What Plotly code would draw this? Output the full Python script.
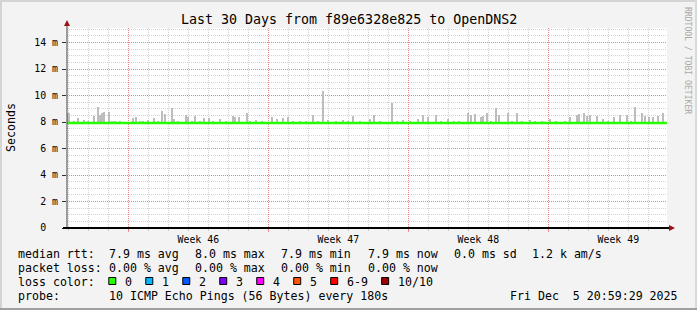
import plotly.graph_objects as go

# ---------------- data ----------------
title_text = "Last 30 Days from f89e6328e825 to OpenDNS2"
# time axis: days since start of the 30-day window
first_week_line = 3.065          # first week boundary (days)
first_day_line = 0.065           # first day boundary (days)
week_labels = ["Week 46", "Week 47", "Week 48", "Week 49"]

# median rtt (ms), one reading per day boundary
median_day = list(range(31))
median_ms = [7.92, 7.92, 7.92, 7.92, 7.92, 7.92, 7.92, 7.92, 7.92, 7.92,
             7.92, 7.92, 7.92, 7.92, 7.92, 7.92, 7.92, 7.92, 7.92, 7.92,
             7.92, 7.92, 7.92, 7.92, 7.92, 7.92, 7.92, 7.92, 7.92, 7.92, 7.92]

# smoke spikes: position (days) and top of smoke (ms)
smoke_day = [0.07, 0.10, 0.35, 0.57, 0.85, 1.05, 1.35, 1.57, 1.65, 1.74, 1.87, 2.10,
             2.25, 2.40, 2.65, 3.29, 3.45, 3.65, 3.80, 4.05, 4.35, 4.55, 4.77, 4.92,
             5.27, 5.33, 5.55, 5.94, 6.04, 6.25, 6.40, 6.65, 6.85, 7.12, 7.30, 7.65,
             7.95, 8.30, 8.38, 8.62, 8.99, 9.15, 9.45, 9.75, 10.24, 10.49, 10.82,
             11.04, 11.30, 11.65, 11.95, 12.32, 12.55, 12.82, 13.05, 13.45, 13.80,
             14.05, 14.32, 14.65, 15.15, 15.37, 15.65, 16.24, 16.50, 16.80, 17.15,
             17.57, 17.82, 18.07, 18.45, 18.70, 19.05, 19.35, 19.60, 20.07, 20.20,
             20.40, 20.70, 20.80, 20.99, 21.20, 21.44, 21.60, 22.04, 22.25, 22.49,
             22.75, 23.15, 23.40, 23.75, 24.15, 24.45, 24.90, 25.15, 25.49, 25.60,
             25.85, 26.02, 26.15, 26.49, 26.80, 27.05, 27.37, 27.65, 27.99, 28.20,
             28.40, 28.74, 28.90, 29.10, 29.30, 29.57, 29.82]
smoke_ms = [8.66, 8.65, 8.10, 8.28, 8.12, 8.10, 8.45, 9.12, 8.50, 8.65, 8.73, 8.78,
            8.08, 8.10, 8.08, 8.30, 8.40, 8.06, 8.10, 8.15, 8.30, 8.08, 8.83, 8.60,
            9.03, 8.20, 8.08, 8.55, 8.40, 8.10, 8.45, 8.08, 8.33, 8.33, 8.06, 8.25,
            8.10, 8.45, 8.40, 8.40, 8.68, 8.08, 8.12, 8.06, 8.40, 8.25, 8.28,
            8.40, 8.08, 8.10, 8.06, 8.53, 8.08, 10.34, 8.15, 8.08, 8.15,
            8.10, 8.45, 8.08, 8.25, 8.55, 8.10, 9.42, 8.10, 8.15, 8.08,
            8.25, 8.55, 8.40, 8.50, 8.10, 8.25, 8.08, 8.10, 8.68, 8.55,
            8.58, 8.40, 8.45, 8.65, 8.10, 9.04, 8.55, 8.65, 8.10, 8.65,
            8.08, 8.15, 8.08, 8.10, 8.25, 8.08, 8.10, 8.40, 8.55, 8.58,
            8.68, 8.45, 8.55, 8.45, 8.25, 8.10, 8.40, 8.50, 8.55, 8.10,
            9.14, 8.68, 8.45, 8.40, 8.35, 8.45, 8.65]

y_tick_vals = [0, 2, 4, 6, 8, 10, 12, 14]
y_tick_text = ["0\u00a0\u00a0", "2 m", "4 m", "6 m", "8 m", "10 m", "12 m", "14 m"]
y_max = 15.094

legend_rows = [
    ["median rtt:", "7.9 ms avg", "8.0 ms max", "7.9 ms min", "7.9 ms now", "0.0 ms sd", "1.2 k am/s"],
    ["packet loss:", "0.00 % avg", "0.00 % max", "0.00 % min", "0.00 % now"],
]
loss_labels = ["0", "1", "2", "3", "4", "5", "6-9", "10/10"]
loss_colors = ["#26ff00", "#00b8ff", "#0059ff", "#7e00ff", "#ff00ff", "#ff5500", "#ff0000", "#a10000"]
probe_text = "10 ICMP Echo Pings (56 Bytes) every 180s"
date_text = "Fri Dec\u00a0\u00a05 20:59:29 2025"
watermark = "RRDTOOL / TOBI OETIKER"

# ---------------- layout geometry ----------------
W, H = 697, 310
PL, PR, PT, PB = 67, 667, 28, 228
FONT = "DejaVu Sans Mono"


def fx(px):
    return (px - PL) / (PR - PL)


def fy(py):
    return (PB - py) / (PB - PT)


week_lines = [first_week_line + 7 * k for k in range(4)]
week_centers = [w + 3.5 for w in week_lines]
day_lines = [first_day_line + k for k in range(30)]

# median value at each smoke position (step function)
def median_at(d):
    i = min(int(d), len(median_ms) - 1)
    return median_ms[i]

smoke_base = [median_at(d) for d in smoke_day]
smoke_h = [t - b for t, b in zip(smoke_ms, smoke_base)]

fig = go.Figure()
fig.add_trace(go.Bar(x=smoke_day, y=smoke_h, base=smoke_base, width=0.05,
                     marker=dict(color="#bdbdbd", line=dict(width=0)),
                     showlegend=False, hoverinfo="skip"))
fig.add_trace(go.Scatter(x=median_day, y=median_ms, mode="lines",
                         line=dict(color="#26ff00", width=2.5, shape="hv"),
                         showlegend=False, hoverinfo="skip"))
# invisible trace to activate the label axis
fig.add_trace(go.Scatter(x=[0, 30], y=[0, 0], xaxis="x2", mode="lines",
                         line=dict(width=0), showlegend=False, hoverinfo="skip"))

red_grid = "rgba(255,0,0,0.38)"
gray_grid = "rgba(140,140,140,0.38)"

fig.update_layout(
    width=W, height=H,
    margin=dict(l=PL, r=W - PR, t=PT, b=H - PB, pad=0),
    paper_bgcolor="#f3f3f3", plot_bgcolor="#ffffff",
    font=dict(family=FONT, color="#000000"),
    bargap=0,
    xaxis=dict(range=[0, 30], tickvals=week_lines, showticklabels=False,
               ticks="outside", ticklen=3, tickcolor=red_grid,
               showgrid=True, gridcolor=red_grid, griddash="1px,1px", gridwidth=1,
               zeroline=False, showline=False, fixedrange=True,
               minor=dict(tickvals=day_lines, showgrid=True, gridcolor=gray_grid,
                          griddash="1px,1px", ticks="outside", ticklen=2,
                          tickcolor=gray_grid)),
    xaxis2=dict(range=[0, 30], overlaying="x", anchor="y", side="bottom",
                tickvals=week_centers, ticktext=week_labels, ticks="",
                showgrid=False, zeroline=False, showline=False,
                tickfont=dict(family=FONT, size=9.9, color="#000000"),
                ticklabelstandoff=4),
    yaxis=dict(range=[0, y_max], tickvals=y_tick_vals, ticktext=y_tick_text,
               ticks="outside", ticklen=4, tickcolor="#303030",
               tickfont=dict(family=FONT, size=9.9, color="#000000"),
               ticklabelstandoff=2,
               showgrid=True, gridcolor=red_grid, griddash="1px,1px",
               zeroline=False, showline=False, fixedrange=True,
               minor=dict(dtick=0.5, showgrid=True, gridcolor=gray_grid,
                          griddash="1px,1px")),
)

shapes = []
# axis lines
shapes.append(dict(type="line", xref="paper", yref="paper", x0=fx(67), x1=fx(67),
                   y0=fy(228), y1=fy(24), line=dict(color="#404040", width=1)))
shapes.append(dict(type="line", xref="paper", yref="paper", x0=fx(63), x1=fx(669),
                   y0=fy(228), y1=fy(228), line=dict(color="#000000", width=2)))
# arrows
shapes.append(dict(type="path", xref="paper", yref="paper",
                   path=f"M {fx(64)} {fy(26)} L {fx(70)} {fy(26)} L {fx(67)} {fy(20)} Z",
                   fillcolor="#9b1010", line=dict(width=0)))
shapes.append(dict(type="path", xref="paper", yref="paper",
                   path=f"M {fx(669)} {fy(225)} L {fx(669)} {fy(231)} L {fx(675)} {fy(228)} Z",
                   fillcolor="#9b1010", line=dict(width=0)))
# frame
shapes.append(dict(type="rect", xref="paper", yref="paper", x0=fx(0), x1=fx(697),
                   y0=fy(0), y1=fy(2), fillcolor="#d4d4d4", line=dict(width=0)))
shapes.append(dict(type="rect", xref="paper", yref="paper", x0=fx(0), x1=fx(2),
                   y0=fy(0), y1=fy(310), fillcolor="#d4d4d4", line=dict(width=0)))
shapes.append(dict(type="rect", xref="paper", yref="paper", x0=fx(695), x1=fx(697),
                   y0=fy(0), y1=fy(310), fillcolor="#dadada", line=dict(width=0)))
shapes.append(dict(type="rect", xref="paper", yref="paper", x0=fx(0), x1=fx(697),
                   y0=fy(308), y1=fy(310), fillcolor="#a0a0a0", line=dict(width=0)))

annotations = []
LEG = 11.6
CW = 0.602 * LEG


def text(px, py, s, size=LEG, anchor="left", color="#000000", angle=0, yanchor="middle"):
    annotations.append(dict(x=fx(px), y=fy(py), xref="paper", yref="paper", text=s,
                            showarrow=False, xanchor=anchor, yanchor=yanchor,
                            textangle=angle,
                            font=dict(family=FONT, size=size, color=color)))


text(348.5, 19, title_text, size=13.3, anchor="center")
text(11, 128, "Seconds", size=LEG, anchor="center", angle=-90)
text(688, 60, watermark, size=8.1, anchor="center", angle=90, color="#a8a8a8")

col_x = [16, 107.3, 193.3, 279, 365.7, 451.7, 530]
row_y = [254.3, 268, 282, 296]
for r, row in enumerate(legend_rows):
    for c, s in enumerate(row):
        text(col_x[c], row_y[r], s)

text(16, row_y[2], "loss color:")
sq_x = 108.3
for lab, col in zip(loss_labels, loss_colors):
    shapes.append(dict(type="rect", xref="paper", yref="paper",
                       x0=fx(sq_x + 0.5), x1=fx(sq_x + 7.5),
                       y0=fy(277.5), y1=fy(284.5),
                       fillcolor=col, line=dict(color="#000000", width=1)))
    text(sq_x + 14.4, row_y[2], lab)
    sq_x = sq_x + 14.4 + len(lab) * CW + 15.6

text(16, row_y[3], "probe:")
text(107.3, row_y[3], probe_text)
text(680, row_y[3], date_text, anchor="right")

fig.update_layout(shapes=shapes, annotations=annotations)
fig.write_html("out.html")
